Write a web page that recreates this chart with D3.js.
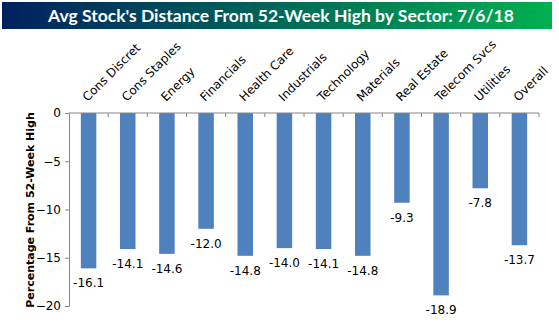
<!DOCTYPE html>
<html>
<head>
<meta charset="utf-8">
<script src="https://cdn.jsdelivr.net/npm/d3@7"></script>
<style>
  body { margin: 0; background: #fff; }
  svg { display: block; }
  .tick text { font-family: "DejaVu Sans", sans-serif; }
</style>
</head>
<body>
<svg id="mainFrame"></svg>
<script>
// chart data
const sectors = ['Cons Discret', 'Cons Staples', 'Energy', 'Financials', 'Health Care', 'Industrials',
    'Technology', 'Materials', 'Real Estate', 'Telecom Svcs', 'Utilities', 'Overall']
const distances = [-16.1, -14.1, -14.6, -12.0, -14.8, -14.0, -14.1, -14.8, -9.3, -18.9, -7.8, -13.7]
const yTicks = [0, -5, -10, -15, -20]
const titleText = "Avg Stock's Distance From 52-Week High by Sector: 7/6/18"
const yTitle = 'Percentage From 52-Week High'

const width = 559
const height = 327

const svg = d3.select('#mainFrame')
    .attr('width', width)
    .attr('height', height)

// title banner with gradient
const grad = svg.append('defs').append('linearGradient')
    .attr('id', 'titleGrad')
    .attr('x1', '0%').attr('x2', '100%')
grad.append('stop').attr('offset', '0%').attr('stop-color', '#002060')
grad.append('stop').attr('offset', '100%').attr('stop-color', '#00b050')

svg.append('rect')
    .attr('x', 2).attr('y', 2)
    .attr('width', 550).attr('height', 27)
    .attr('fill', 'url(#titleGrad)')

svg.append('text')
    .attr('x', 281).attr('y', 22)
    .attr('text-anchor', 'middle')
    .attr('fill', '#fff')
    .style('font-family', 'Lato, sans-serif')
    .style('font-weight', 'bold')
    .style('font-size', '17.5px')
    .text(titleText)

const margin = { top: 113, left: 69, right: 20, bottom: 21 }
const plotW = 539 - margin.left
const plotH = 306 - margin.top

const g = svg.append('g')
    .attr('transform', `translate(${margin.left},${margin.top})`)

const bandScale = d3.scaleBand().domain(sectors).range([0, plotW])
const barW = 15.5

const yScale = d3.scaleLinear()
    .domain([0, -20])
    .range([0, plotH])

// bars
g.selectAll('rect.bar').data(distances)
    .join('rect')
    .attr('class', 'bar')
    .attr('x', (d, i) => bandScale(sectors[i]) + bandScale.bandwidth() / 2 - barW / 2)
    .attr('width', barW)
    .attr('y', 0)
    .attr('height', d => yScale(d))
    .attr('fill', '#4f81bd')

// value labels
g.selectAll('text.val').data(distances)
    .join('text')
    .attr('class', 'val')
    .attr('x', (d, i) => bandScale(sectors[i]) + bandScale.bandwidth() / 2)
    .attr('y', d => yScale(d) + 19)
    .attr('text-anchor', 'middle')
    .style('font-family', '"DejaVu Sans", sans-serif')
    .style('font-size', '12px')
    .attr('fill', '#000')
    .text(d => d.toFixed(1))

// y axis
const yAxis = d3.axisLeft(yScale)
    .tickValues(yTicks)
    .tickSize(4)
    .tickPadding(4)
    .tickFormat(d3.format('d'))

const yAxisG = g.append('g').call(yAxis)
yAxisG.select('.domain').attr('stroke', '#868686')
yAxisG.selectAll('line').attr('stroke', '#868686')
yAxisG.selectAll('text')
    .style('font-size', '12px')
    .attr('fill', '#000')

// x axis along zero, ticks at band edges
const xAxisG = g.append('g')
xAxisG.append('line')
    .attr('x1', 0).attr('x2', plotW)
    .attr('y1', 0).attr('y2', 0)
    .attr('stroke', '#868686')
xAxisG.selectAll('line.edge').data(sectors)
    .join('line')
    .attr('class', 'edge')
    .attr('x1', d => bandScale(d) + bandScale.bandwidth())
    .attr('x2', d => bandScale(d) + bandScale.bandwidth())
    .attr('y1', 0).attr('y2', 4)
    .attr('stroke', '#868686')

// rotated category labels
g.selectAll('text.cat').data(sectors)
    .join('text')
    .attr('class', 'cat')
    .attr('transform', d => `translate(${bandScale(d) + bandScale.bandwidth() / 2 - 1},-11) rotate(-45)`)
    .attr('text-anchor', 'start')
    .style('font-family', '"DejaVu Sans", sans-serif')
    .style('font-size', '12px')
    .attr('fill', '#000')
    .text(d => d)

// y axis title
svg.append('text')
    .attr('transform', `translate(34,${margin.top + 97}) rotate(-90)`)
    .attr('text-anchor', 'middle')
    .style('font-family', '"DejaVu Sans", sans-serif')
    .style('font-weight', 'bold')
    .style('font-size', '11px')
    .attr('fill', '#000')
    .text(yTitle)
</script>
</body>
</html>
